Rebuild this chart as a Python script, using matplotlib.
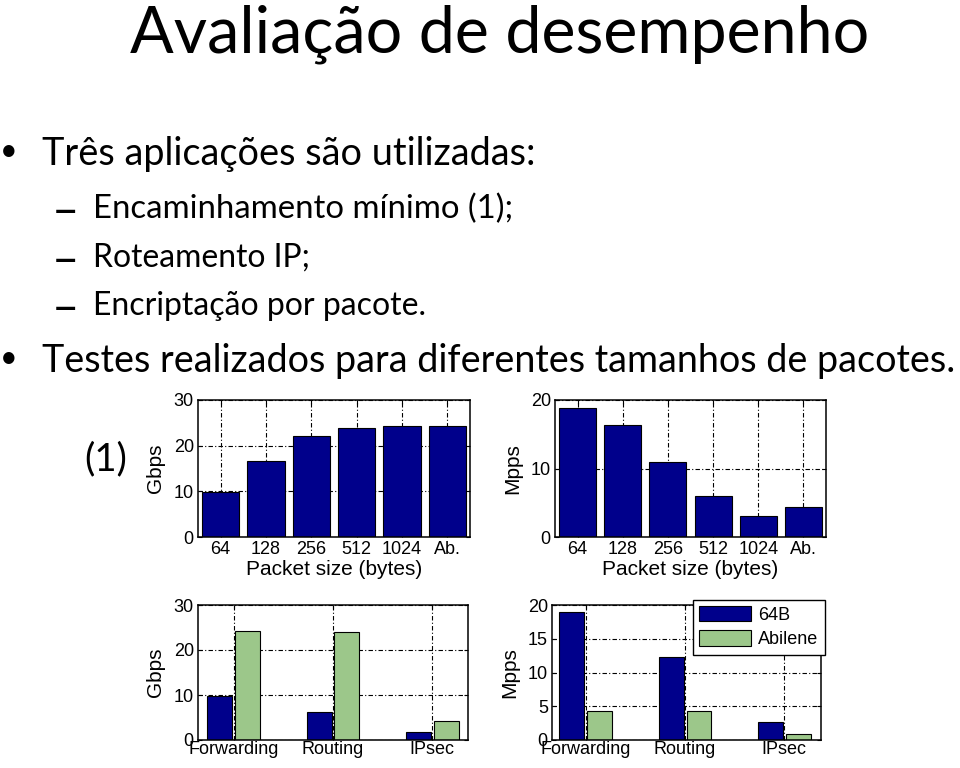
import matplotlib
matplotlib.use("Agg")
import matplotlib.pyplot as plt
import numpy as np

W, H = 960, 768

# slide text
title = "Avaliação de desempenho"
bullet1 = "Três aplicações são utilizadas:"
sub_items = ["Encaminhamento mínimo (1);", "Roteamento IP;", "Encriptação por pacote."]
bullet2 = "Testes realizados para diferentes tamanhos de pacotes."

# top charts: throughput per packet size
sizes = ["64", "128", "256", "512", "1024", "Ab."]
gbps_by_size = [9.8, 16.6, 22.2, 23.8, 24.4, 24.4]
mpps_by_size = [18.9, 16.3, 10.9, 5.95, 3.1, 4.4]

# bottom charts: per application
apps = ["Forwarding", "Routing", "IPsec"]
series = ["64B", "Abilene"]
gbps_64b = [9.8, 6.3, 1.7]
gbps_abilene = [24.3, 23.9, 4.2]
mpps_64b = [18.9, 12.3, 2.7]
mpps_abilene = [4.3, 4.3, 0.9]

navy = "#00008b"
green = "#9cc78a"
grid_ls = (0, (4, 2, 1, 2))

fig = plt.figure(figsize=(W / 100, H / 100), dpi=100)
renderer = fig.canvas.get_renderer()
slide_font = ["Lato", "DejaVu Sans"]
chart_font = "Liberation Sans"


def fit_text(x_px, base_px, s, width_px, size=30, **kw):
    # place text and scale it so it spans the given width in pixels
    t = fig.text(x_px / W, 1 - base_px / H, s, fontsize=size, va="baseline",
                 family=slide_font, **kw)
    w = t.get_window_extent(renderer).width
    t.set_fontsize(size * width_px / w)
    return t


def axes_px(x0, y0, x1, y1):
    return fig.add_axes([x0 / W, 1 - y1 / H, (x1 - x0) / W, (y1 - y0) / H])


def style_axes(ax):
    ax.set_axisbelow(True)
    ax.grid(True, color="black", linestyle=grid_ls, linewidth=0.8)
    ax.tick_params(direction="in", top=True, right=True, length=3, width=0.8,
                   labelsize=13, pad=3)
    for lab in ax.get_xticklabels() + ax.get_yticklabels():
        lab.set_family(chart_font)
    for sp in ax.spines.values():
        sp.set_linewidth(1.1)


# ---- slide text ----
fit_text(130, 52, title, 740, size=46, ha="left")
fig.text(9 / W, 1 - 160 / H, "•", fontsize=22, va="baseline", ha="center",
         family=slide_font)
fit_text(42, 165, bullet1, 493)
sub_base = [218, 267, 315]
sub_width = [419, 217, 332]
for s, b, w in zip(sub_items, sub_base, sub_width):
    fig.text(65 / W, 1 - (b + 7) / H, "–", fontsize=34, va="baseline", ha="center",
             family=slide_font)
    fit_text(93, b, s, w)
fig.text(9 / W, 1 - 367 / H, "•", fontsize=22, va="baseline", ha="center",
         family=slide_font)
fit_text(42, 372, bullet2, 913)
fit_text(84, 470, "(1)", 43)

# ---- top left: Gbps by packet size ----
pos = np.arange(1, len(sizes) + 1)
ax1 = axes_px(198, 400, 470, 537)
ax1.bar(pos, gbps_by_size, width=0.82, color=navy, edgecolor="black", linewidth=0.8)
ax1.set_xlim(0.5, 6.5)
ax1.set_ylim(0, 30)
ax1.set_xticks(pos)
ax1.set_xticklabels(sizes)
ax1.set_yticks([0, 10, 20, 30])
style_axes(ax1)
ax1.set_ylabel("Gbps", fontsize=15, family=chart_font, labelpad=6)
ax1.set_xlabel("Packet size (bytes)", fontsize=15, family=chart_font, labelpad=1)

# ---- top right: Mpps by packet size ----
ax2 = axes_px(555, 400, 826, 537)
ax2.bar(pos, mpps_by_size, width=0.82, color=navy, edgecolor="black", linewidth=0.8)
ax2.set_xlim(0.5, 6.5)
ax2.set_ylim(0, 20)
ax2.set_xticks(pos)
ax2.set_xticklabels(sizes)
ax2.set_yticks([0, 10, 20])
style_axes(ax2)
ax2.set_ylabel("Mpps", fontsize=15, family=chart_font, labelpad=6)
ax2.set_xlabel("Packet size (bytes)", fontsize=15, family=chart_font, labelpad=1)

# ---- bottom: per application ----
apos = np.arange(1, len(apps) + 1)
bw = 0.25
off = 0.14

ax3 = axes_px(198, 605, 468, 740)
ax3.bar(apos - off, gbps_64b, width=bw, color=navy, edgecolor="black", linewidth=0.8)
ax3.bar(apos + off, gbps_abilene, width=bw, color=green, edgecolor="black", linewidth=0.8)
ax3.set_xlim(0.64, 3.36)
ax3.set_ylim(0, 30)
ax3.set_xticks(apos)
ax3.set_xticklabels(apps)
ax3.set_yticks([0, 10, 20, 30])
style_axes(ax3)
ax3.tick_params(axis="x", pad=1)
ax3.set_ylabel("Gbps", fontsize=15, family=chart_font, labelpad=6)

ax4 = axes_px(552, 605, 821, 740)
b1 = ax4.bar(apos - off, mpps_64b, width=bw, color=navy, edgecolor="black", linewidth=0.8)
b2 = ax4.bar(apos + off, mpps_abilene, width=bw, color=green, edgecolor="black", linewidth=0.8)
ax4.set_xlim(0.66, 3.37)
ax4.set_ylim(0, 20)
ax4.set_xticks(apos)
ax4.set_xticklabels(apps)
ax4.set_yticks([0, 5, 10, 15, 20])
style_axes(ax4)
ax4.tick_params(axis="x", pad=1)
ax4.set_ylabel("Mpps", fontsize=15, family=chart_font, labelpad=6)
leg = ax4.legend([b1, b2], series, loc="upper right", bbox_to_anchor=(1.015, 1.04),
                 borderaxespad=0, fancybox=False, framealpha=1, edgecolor="black",
                 handlelength=2.9, handleheight=0.95, handletextpad=0.4,
                 labelspacing=0.35, borderpad=0.35, prop={"family": chart_font, "size": 13})
leg.get_frame().set_linewidth(1.0)

fig.savefig("out.png", dpi=100)
